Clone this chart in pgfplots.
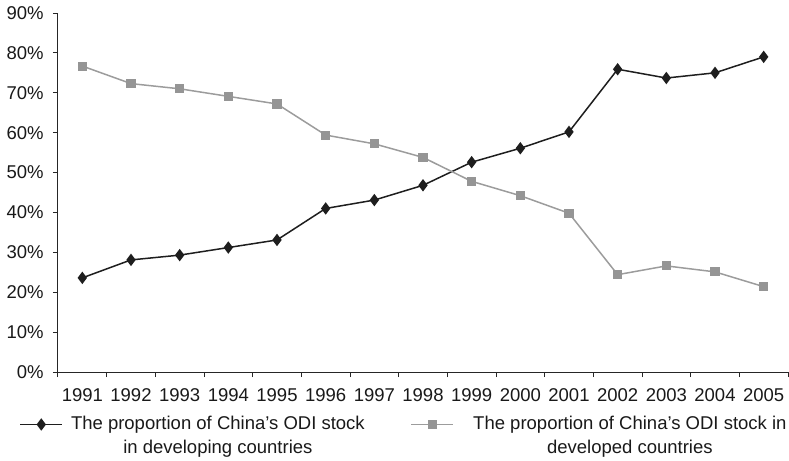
\documentclass[border=0pt]{standalone}
\usepackage{fontspec}
\setmainfont{Liberation Sans}
\usepackage{pgfplots}
\pgfplotsset{compat=1.18}
\definecolor{darkline}{HTML}{1E1E1E}
\definecolor{grayline}{HTML}{9C9C9C}
\definecolor{grayfill}{HTML}{959595}
\newcommand{\lblfont}{\fontsize{18.5bp}{23.5bp}\selectfont}
\begin{document}
\lblfont
\begin{tikzpicture}
\begin{axis}[
  at={(0,0)}, anchor=south west,
  scale only axis, width=730bp, height=359bp,
  xmin=0.5, xmax=15.5, ymin=0, ymax=90,
  axis x line*=bottom, axis y line*=left,
  axis line style={line width=1bp, color=black!85, -},
  xtick={1,...,15},
  xticklabels={1991,1992,1993,1994,1995,1996,1997,1998,1999,2000,2001,2002,2003,2004,2005},
  major x tick style={draw=none},
  minor xtick={0.5,1.5,...,15.5},
  minor tick length=5bp,
  major tick length=5bp,
  tick align=outside,
  tick style={line width=1bp, black!85},
  ytick={0,10,...,90},
  yticklabels={0\%,10\%,20\%,30\%,40\%,50\%,60\%,70\%,80\%,90\%},
  every tick label/.append style={font=\lblfont, text=black!90},
  xticklabel style={yshift=-5bp},
  yticklabel style={xshift=-3bp},
  legend style={at={(0.474,-0.112)}, anchor=north, legend columns=2, draw=none, fill=none,
    font=\lblfont, text=black!90, cells={align=center},
    /tikz/every odd column/.append style={column sep=6bp},
    /tikz/every even column/.append style={column sep=44bp}},
  legend image code/.code={\draw[mark repeat=2,mark phase=2,#1] plot coordinates {(0bp,11.75bp) (21bp,11.75bp) (42bp,11.75bp)};},
]
\addplot[color=darkline, line width=1.5bp, mark=diamond*, mark size=5bp, mark options={fill=darkline, draw=darkline}]
coordinates {(1,23.6) (2,28.1) (3,29.3) (4,31.2) (5,33.1) (6,41.0) (7,43.1) (8,46.8) (9,52.6) (10,56.1) (11,60.2) (12,75.9) (13,73.7) (14,75.0) (15,79.0)};
\addlegendentry{The proportion of China’s ODI stock\\in developing countries}
\addplot[color=grayline, line width=1.5bp, mark=square*, mark size=3.8bp, mark options={fill=grayfill, draw=grayfill}]
coordinates {(1,76.7) (2,72.3) (3,71.0) (4,69.1) (5,67.2) (6,59.4) (7,57.2) (8,53.8) (9,47.8) (10,44.2) (11,39.8) (12,24.4) (13,26.6) (14,25.1) (15,21.4)};
\addlegendentry{\hspace*{11bp}The proportion of China’s ODI stock in\\\hspace*{11bp}developed countries}
\end{axis}
\pgfresetboundingbox
\path[use as bounding box] (-58bp,-89bp) rectangle (731bp,372bp);
\end{tikzpicture}
\end{document}
